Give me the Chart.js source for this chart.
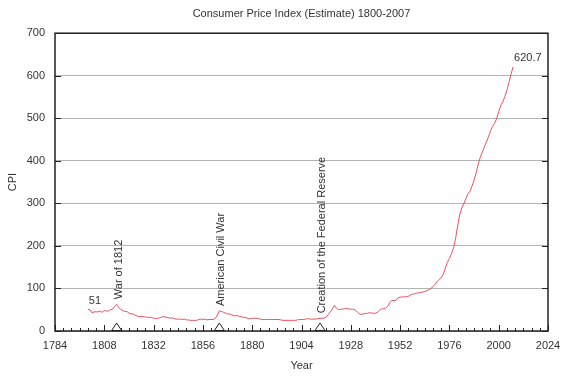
<!DOCTYPE html>
<html>
<head>
<meta charset="utf-8">
<script src="https://cdn.jsdelivr.net/npm/chart.js@4.4.1/dist/chart.umd.min.js"></script>
<style>
html,body{margin:0;padding:0;background:#fff;}
#wrap{width:562px;height:377px;}
</style>
</head>
<body>
<div id="wrap"><canvas id="c" width="562" height="377"></canvas></div>
<script>
const years = [1800,1801,1802,1803,1804,1805,1806,1807,1808,1809,1810,1811,1812,1813,1814,1815,1816,1817,1818,1819,
1820,1821,1822,1823,1824,1825,1826,1827,1828,1829,1830,1831,1832,1833,1834,1835,1836,1837,1838,1839,
1840,1841,1842,1843,1844,1845,1846,1847,1848,1849,1850,1851,1852,1853,1854,1855,1856,1857,1858,1859,
1860,1861,1862,1863,1864,1865,1866,1867,1868,1869,1870,1871,1872,1873,1874,1875,1876,1877,1878,1879,
1880,1881,1882,1883,1884,1885,1886,1887,1888,1889,1890,1891,1892,1893,1894,1895,1896,1897,1898,1899,
1900,1901,1902,1903,1904,1905,1906,1907,1908,1909,1910,1911,1912,1913,1914,1915,1916,1917,1918,1919,
1920,1921,1922,1923,1924,1925,1926,1927,1928,1929,1930,1931,1932,1933,1934,1935,1936,1937,1938,1939,
1940,1941,1942,1943,1944,1945,1946,1947,1948,1949,1950,1951,1952,1953,1954,1955,1956,1957,1958,1959,
1960,1961,1962,1963,1964,1965,1966,1967,1968,1969,1970,1971,1972,1973,1974,1975,1976,1977,1978,1979,
1980,1981,1982,1983,1984,1985,1986,1987,1988,1989,1990,1991,1992,1993,1994,1995,1996,1997,1998,1999,
2000,2001,2002,2003,2004,2005,2006,2007];
const cpi = [51,50,43,45,45,45,47,44,48,47,47,50,51,58,63,55,51,48,46,46,
42,40,40,37,35,34,34,34,33,32,32,32,30,29,30,31,33,34,32,32,
30,31,29,28,28,28,27,28,26,26,25,25,25,25,27,28,27,28,26,27,
27,27,30,37,47,46,44,42,40,40,38,36,36,36,34,33,32,32,29,29,
30,30,30,29,28,27,27,27,27,27,27,27,27,27,26,25,25,25,25,25,
25,25,26,27,27,27,28,29,28,28,28,28,29,29.7,30.1,30.4,32.7,38.4,45.1,51.8,
60.0,53.6,50.2,51.1,51.2,52.5,53.0,52.0,51.3,51.3,50.0,45.6,40.9,38.8,40.1,41.1,41.5,43.0,42.2,41.6,
42.0,44.1,48.8,51.8,52.7,53.9,58.5,66.9,72.1,71.4,72.1,77.8,79.5,80.1,80.5,80.2,81.4,84.3,86.6,87.3,
88.7,89.6,90.6,91.7,92.9,94.5,97.2,100.0,104.2,109.8,116.3,121.3,125.3,133.1,147.7,161.2,170.5,181.5,195.4,217.4,
246.8,272.4,289.1,298.4,311.1,322.2,328.4,340.4,354.3,371.3,391.4,408.0,420.3,432.7,444.0,456.5,470.0,481.0,488.3,499.0,
515.8,530.4,538.8,551.1,565.8,585.0,603.9,620.7];
const eventYears = [1814, 1864, 1913];
const eventLabels = ['War of 1812', 'American Civil War', 'Creation of the Federal Reserve'];
const endLabels = [{year:1800, text:'51'}, {year:2007, text:'620.7'}];
const xMin = 1784, xMax = 2024, xStep = 24, xMinorStep = 4;
const yMin = 0, yMax = 700, yStep = 100;
const titleText = 'Consumer Price Index (Estimate) 1800-2007';

const FONT = '"Liberation Sans", Arial, sans-serif';
const TXT = '#333';
Chart.defaults.font.family = FONT;
Chart.defaults.font.size = 11;
Chart.defaults.color = TXT;

const cpiAt = y => cpi[years.indexOf(y)];

const overlay = {
  id: 'overlay',
  afterDatasetsDraw(chart) {
    const {ctx, chartArea: a, scales: {x, y}} = chart;
    ctx.save();
    ctx.strokeStyle = '#222';
    ctx.lineWidth = 1;
    ctx.beginPath();
    for (let v = yMin; v <= yMax; v += yStep) {
      const py = Math.round(y.getPixelForValue(v)) + 0.5;
      ctx.moveTo(a.left, py); ctx.lineTo(a.left + 6, py);
      ctx.moveTo(a.right, py); ctx.lineTo(a.right - 6, py);
    }
    for (let v = xMin; v <= xMax; v += xMinorStep) {
      const px = Math.round(x.getPixelForValue(v)) + 0.5;
      const len = ((v - xMin) % xStep === 0) ? 6 : 3;
      ctx.moveTo(px, a.bottom); ctx.lineTo(px, a.bottom - len);
    }
    ctx.stroke();
    ctx.lineWidth = 1.5;
    ctx.strokeStyle = '#222';
    ctx.strokeRect(a.left, a.top, a.right - a.left, a.bottom - a.top);
    const y0 = y.getPixelForValue(0);
    ctx.lineWidth = 1;
    eventYears.forEach(yr => {
      const px = x.getPixelForValue(yr);
      ctx.beginPath();
      ctx.moveTo(px, y0 - 8);
      ctx.lineTo(px - 5, y0 - 0.5);
      ctx.lineTo(px + 5, y0 - 0.5);
      ctx.closePath();
      ctx.fillStyle = '#fff';
      ctx.fill();
      ctx.stroke();
    });
    ctx.fillStyle = TXT;
    ctx.font = '11px ' + FONT;
    eventYears.forEach((yr, i) => {
      const px = x.getPixelForValue(yr);
      const py = y.getPixelForValue(cpiAt(yr));
      ctx.save();
      ctx.translate(px + 2, py - 5);
      ctx.rotate(-Math.PI / 2);
      ctx.textAlign = 'left';
      ctx.textBaseline = 'middle';
      ctx.fillText(eventLabels[i], 0, 0);
      ctx.restore();
    });
    endLabels.forEach(l => {
      const px = x.getPixelForValue(l.year);
      const py = y.getPixelForValue(cpiAt(l.year));
      ctx.textAlign = 'left';
      ctx.textBaseline = 'bottom';
      ctx.fillText(l.text, px + 1, py - 3);
    });
    ctx.restore();
  }
};

new Chart(document.getElementById('c'), {
  type: 'line',
  data: {
    datasets: [{
      data: years.map((yr, i) => ({x: yr, y: cpi[i]})),
      borderColor: 'rgb(234,80,96)',
      borderWidth: 1,
      pointRadius: 0,
      tension: 0,
      fill: false
    }]
  },
  options: {
    responsive: false,
    animation: false,
    devicePixelRatio: 1,
    layout: {padding: {left: 0, right: 14, top: 0, bottom: 0}},
    plugins: {
      legend: {display: false},
      tooltip: {enabled: false},
      title: {
        display: true,
        text: titleText,
        fullSize: false,
        color: TXT,
        font: {size: 11, weight: 'normal', family: FONT},
        padding: {top: 7, bottom: 13}
      }
    },
    scales: {
      x: {
        type: 'linear',
        min: xMin, max: xMax,
        afterFit: s => { s.height = 46; s.paddingLeft = 0; s.paddingRight = 0; },
        grid: {display: false, drawTicks: false},
        border: {display: false},
        ticks: {stepSize: xStep, padding: 8, maxRotation: 0, autoSkip: false, color: TXT,
                callback: v => String(v)},
        title: {display: true, text: 'Year', color: TXT, font: {size: 11}, padding: {top: 0, bottom: 4}}
      },
      y: {
        min: yMin, max: yMax,
        afterFit: s => { s.width = 55; },
        grid: {color: '#b4b4b4', lineWidth: 1, drawTicks: false},
        border: {display: false},
        ticks: {stepSize: yStep, padding: 10, color: TXT, callback: v => String(v)},
        title: {display: true, text: 'CPI', color: TXT, font: {size: 11}, padding: {top: 6, bottom: 0}}
      }
    }
  },
  plugins: [overlay]
});
</script>
</body>
</html>
